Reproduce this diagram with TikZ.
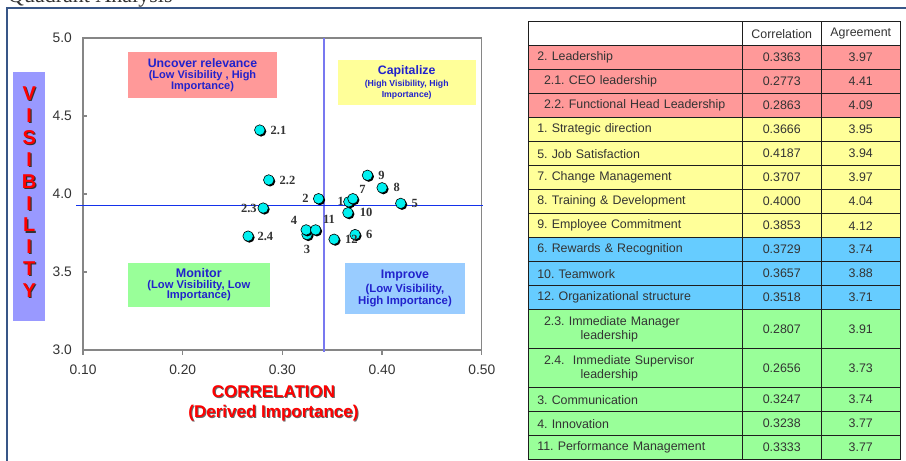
\documentclass[tikz,border=0pt]{standalone}
\usepackage{fontspec}
\setmainfont{Liberation Sans}
\newfontfamily\ptserif{Liberation Serif}
\usepackage{tikz}
\usetikzlibrary{shapes,arrows}
\usetikzlibrary{calc}
\usetikzlibrary{positioning}
\usetikzlibrary{shadows}
\definecolor{framenavy}{RGB}{56,86,135}
\definecolor{leadpink}{RGB}{255,153,153}
\definecolor{capyellow}{RGB}{255,255,153}
\definecolor{monitorgreen}{RGB}{153,255,153}
\definecolor{improveblue}{RGB}{153,204,255}
\definecolor{rowblue}{RGB}{102,204,255}
\definecolor{visviolet}{RGB}{153,153,255}
\definecolor{quadtext}{RGB}{34,34,204}
\definecolor{axisgray}{RGB}{134,134,134}
\definecolor{splitviolet}{RGB}{120,120,240}
\definecolor{splitblue}{RGB}{20,50,235}
\definecolor{dotcyan}{RGB}{0,240,240}
\definecolor{tabline}{RGB}{30,30,30}
\definecolor{tabtext}{RGB}{51,51,51}
\newcommand{\tabfont}{\frenchspacing\fontsize{12.4}{13.7}\selectfont}
\tikzstyle{quadbox} = [rectangle, align=center, text=quadtext, inner sep=0pt]
\tikzstyle{datapoint} = [circle, draw=black, fill=dotcyan, minimum size=10.5pt, inner sep=0pt,
    outer sep=0pt, line width=0.6pt, drop shadow={shadow xshift=1.3pt, shadow yshift=-1.3pt, fill=black, opacity=1}]
\tikzstyle{dotlabel} = [font=\ptserif\bfseries\fontsize{12.5}{13}\selectfont, text=black!80, inner sep=1pt]
\tikzstyle{ticklabel} = [font=\fontsize{13.8}{15}\selectfont, text=tabtext, inner sep=2pt]
\tikzstyle{axisline} = [draw=axisgray, line width=1.2pt]
\tikzstyle{vistext} = [align=center, inner sep=0pt, font=\bfseries\fontsize{20}{21.86}\selectfont]
\tikzstyle{xtitle} = [align=center, inner sep=0pt, font=\bfseries\fontsize{17}{20}\selectfont]
\tikzstyle{namecell} = [rectangle, draw=tabline, line width=1.2pt, outer sep=0pt, text width=196pt,
    inner xsep=9pt, inner ysep=0pt, minimum height=24pt, align=left, text=tabtext, font=\tabfont]
\tikzstyle{numcell} = [rectangle, draw=tabline, line width=1.2pt, outer sep=0pt, minimum width=79pt,
    minimum height=24pt, inner sep=0pt, align=center, text=tabtext, font=\tabfont]

\begin{document}
\begin{tikzpicture}[x=1pt, y=-1pt]
    \fill [white] (0,0) rectangle (906,461);
    \useasboundingbox (0,0) rectangle (906,461);
    \draw [framenavy, line width=2pt] (7,461) -- (7,8) -- (906,8);
    \begin{scope}
        \clip (0,0) rectangle (906,461);
        \node [font=\ptserif\fontsize{22}{24}\selectfont, text=black!80, inner sep=0pt] (title) at (8,2.5) [anchor=base west] {Quadrant Analysis};
    \end{scope}

    % vertical axis title
    \node [rectangle, fill=visviolet, minimum width=31.7pt, minimum height=248.8pt, inner sep=0pt] (visbox) at (29.2,196.1) {};
    \node [vistext, text=black!80] (visshadow) at (30.4,193.4) {V\\I\\S\\I\\B\\I\\L\\I\\T\\Y};
    \node [vistext, text=red] (vis) at (29.2,192.2) {V\\I\\S\\I\\B\\I\\L\\I\\T\\Y};

    \begin{scope}[shift={(-16.7,818)}, x=997pt, y=156pt, node distance=4.5pt]
        % plot area and ticks
        \draw [axisline] (0.1,3) rectangle (0.5,5);
        \draw [axisline] (0.1,4.5) -- ++(4.3pt,0);
        \draw [axisline] (0.1,4.0) -- ++(4.3pt,0);
        \draw [axisline] (0.1,3.5) -- ++(4.3pt,0);
        \draw [axisline] (0.1,3) -- ++(0,-4.5pt);
        \draw [axisline] (0.2,3) -- ++(0,-4.5pt);
        \draw [axisline] (0.3,3) -- ++(0,-4.5pt);
        \draw [axisline] (0.4,3) -- ++(0,-4.5pt);
        \draw [axisline] (0.5,3) -- ++(0,-4.5pt);
        \node [ticklabel, left=9pt] (y50) at (0.1,5) {5.0};
        \node [ticklabel, left=9pt] (y45) at (0.1,4.5) {4.5};
        \node [ticklabel, left=9pt] (y40) at (0.1,4) {4.0};
        \node [ticklabel, left=9pt] (y35) at (0.1,3.5) {3.5};
        \node [ticklabel, left=9pt] (y30) at (0.1,3) {3.0};
        \node [ticklabel, below=13pt] (x010) at (0.1,3) {0.10};
        \node [ticklabel, below=13pt] (x020) at (0.2,3) {0.20};
        \node [ticklabel, below=13pt] (x030) at (0.3,3) {0.30};
        \node [ticklabel, below=13pt] (x040) at (0.4,3) {0.40};
        \node [ticklabel, below=13pt] (x050) at (0.5,3) {0.50};

        % quadrant split
        \draw [draw=splitviolet, line width=2pt] (0.3414,5) -- (0.3414,2.987);
        \draw [draw=splitblue, line width=1.3pt] (0.093,3.925) -- (0.5011,3.925);

        % data points
        \node [datapoint] (p2) at (0.3363,3.97) {};
        \node [datapoint] (p21) at (0.2773,4.41) {};
        \node [datapoint] (p22) at (0.2863,4.09) {};
        \node [datapoint] (p9) at (0.3853,4.12) {};
        \node [datapoint] (p8) at (0.4000,4.04) {};
        \node [datapoint] (p5) at (0.4187,3.94) {};
        \node [datapoint] (p1) at (0.3666,3.95) {};
        \node [datapoint] (p7) at (0.3707,3.97) {};
        \node [datapoint] (p10) at (0.3657,3.88) {};
        \node [datapoint] (p23) at (0.2807,3.91) {};
        \node [datapoint] (p24) at (0.2656,3.73) {};
        \node [datapoint] (p3) at (0.3247,3.74) {};
        \node [datapoint] (p4) at (0.3238,3.77) {};
        \node [datapoint] (p11) at (0.3333,3.77) {};
        \node [datapoint] (p12) at (0.3518,3.71) {};
        \node [datapoint] (p6) at (0.3729,3.74) {};

        % point labels
        \node [dotlabel, left=3.5pt of p2] (l2) {2};
        \node [dotlabel, right=of p21] (l21) {2.1};
        \node [dotlabel, right=of p22] (l22) {2.2};
        \node [dotlabel, right=of p9] (l9) {9};
        \node [dotlabel, right=5pt of p8] (l8) {8};
        \node [dotlabel, right=of p5] (l5) {5};
        \node [dotlabel, left=-1.5pt of p1] (l1) {1};
        \node [dotlabel, above right=0pt and 1.5pt of p7] (l7) {7};
        \node [dotlabel, right=5.5pt of p10] (l10) {10};
        \node [dotlabel, left=0pt of p23] (l23) {2.3};
        \node [dotlabel, right=3pt of p24] (l24) {2.4};
        \node [dotlabel, below=4pt of p3] (l3) {3};
        \node [dotlabel, above left=0pt and 4pt of p4] (l4) {4};
        \node [dotlabel, above right=1pt and 2.5pt of p11] (l11) {11};
        \node [dotlabel, right=of p12] (l12) {12};
        \node [dotlabel, right=of p6] (l6) {6};
    \end{scope}

    % quadrant boxes
    \node [quadbox, minimum width=149.6pt, minimum height=45.4pt, font=\bfseries\fontsize{11}{11.2}\selectfont] (uncover) at (202.5,75) [fill=leadpink]
        {{\fontsize{12.3}{13}\selectfont Uncover relevance}\\(Low Visibility , High\\Importance)};
    \node [quadbox, minimum width=138pt, minimum height=45pt, font=\bfseries\fontsize{8.7}{10.7}\selectfont] (capitalize) at (406.7,82.5) [fill=capyellow]
        {{\fontsize{12.3}{13}\selectfont Capitalize}\\[1.5pt](High Visibility, High\\Importance)};
    \node [quadbox, minimum width=142.3pt, minimum height=43.4pt, font=\bfseries\fontsize{11.2}{10.5}\selectfont] (monitor) at (198.8,285) [fill=monitorgreen]
        {{\fontsize{12.5}{13}\selectfont Monitor}\\(Low Visibility, Low\\Importance)};
    \node [quadbox, minimum width=120pt, minimum height=51.3pt, font=\bfseries\fontsize{11.4}{12.3}\selectfont] (improve) at (405,288.3) [fill=improveblue]
        {{\fontsize{12.4}{13}\selectfont Improve}\\[2pt](Low Visibility,\\High Importance)};

    % horizontal axis title
    \node [xtitle, text=black!60] (corrshadow) at (274.5,404.5) {CORRELATION\\(Derived Importance)};
    \node [xtitle, text=red] (corr) at (273.5,403.5) {CORRELATION\\(Derived Importance)};

    % table
    \node [namecell] (hdr) at (528.3,21.7) [anchor=north west, fill=white] {};
    \node [numcell, right=0pt of hdr] (hdrcorr) [fill=white] {Correlation};
    \node [numcell, right=0pt of hdrcorr] (hdragr) [fill=white] {Agreement};
    \node [namecell, below=0pt of hdr] (r2) [fill=leadpink] {2. Leadership};
    \node [numcell, right=0pt of r2] (r2corr) [fill=leadpink] {0.3363};
    \node [numcell, right=0pt of r2corr] (r2agr) [fill=leadpink] {3.97};
    \node [namecell, below=0pt of r2] (r21) [fill=leadpink] {\hspace*{6.7pt}2.1. CEO leadership};
    \node [numcell, right=0pt of r21] (r21corr) [fill=leadpink] {0.2773};
    \node [numcell, right=0pt of r21corr] (r21agr) [fill=leadpink] {4.41};
    \node [namecell, below=0pt of r21] (r22) [fill=leadpink] {\hspace*{6.7pt}2.2. Functional Head Leadership};
    \node [numcell, right=0pt of r22] (r22corr) [fill=leadpink] {0.2863};
    \node [numcell, right=0pt of r22corr] (r22agr) [fill=leadpink] {4.09};
    \node [namecell, below=0pt of r22] (r1) [fill=capyellow] {1. Strategic direction};
    \node [numcell, right=0pt of r1] (r1corr) [fill=capyellow] {0.3666};
    \node [numcell, right=0pt of r1corr] (r1agr) [fill=capyellow] {3.95};
    \node [namecell, below=0pt of r1] (r5) [fill=capyellow] {5. Job Satisfaction};
    \node [numcell, right=0pt of r5] (r5corr) [fill=capyellow] {0.4187};
    \node [numcell, right=0pt of r5corr] (r5agr) [fill=capyellow] {3.94};
    \node [namecell, below=0pt of r5] (r7) [fill=capyellow] {7. Change Management};
    \node [numcell, right=0pt of r7] (r7corr) [fill=capyellow] {0.3707};
    \node [numcell, right=0pt of r7corr] (r7agr) [fill=capyellow] {3.97};
    \node [namecell, below=0pt of r7] (r8) [fill=capyellow] {8. Training \& Development};
    \node [numcell, right=0pt of r8] (r8corr) [fill=capyellow] {0.4000};
    \node [numcell, right=0pt of r8corr] (r8agr) [fill=capyellow] {4.04};
    \node [namecell, below=0pt of r8] (r9) [fill=capyellow] {9. Employee Commitment};
    \node [numcell, right=0pt of r9] (r9corr) [fill=capyellow] {0.3853};
    \node [numcell, right=0pt of r9corr] (r9agr) [fill=capyellow] {4.12};
    \node [namecell, below=0pt of r9] (r6) [fill=rowblue] {6. Rewards \& Recognition};
    \node [numcell, right=0pt of r6] (r6corr) [fill=rowblue] {0.3729};
    \node [numcell, right=0pt of r6corr] (r6agr) [fill=rowblue] {3.74};
    \node [namecell, below=0pt of r6] (r10) [fill=rowblue] {10. Teamwork};
    \node [numcell, right=0pt of r10] (r10corr) [fill=rowblue] {0.3657};
    \node [numcell, right=0pt of r10corr] (r10agr) [fill=rowblue] {3.88};
    \node [namecell, below=0pt of r10] (r12) [fill=rowblue] {12. Organizational structure};
    \node [numcell, right=0pt of r12] (r12corr) [fill=rowblue] {0.3518};
    \node [numcell, right=0pt of r12corr] (r12agr) [fill=rowblue] {3.71};
    \node [namecell, below=0pt of r12, minimum height=39pt] (r23) [fill=monitorgreen] {\hspace*{6.7pt}2.3. Immediate Manager\\\hspace*{43.4pt}leadership};
    \node [numcell, right=0pt of r23, minimum height=39pt] (r23corr) [fill=monitorgreen] {0.2807};
    \node [numcell, right=0pt of r23corr, minimum height=39pt] (r23agr) [fill=monitorgreen] {3.91};
    \node [namecell, below=0pt of r23, minimum height=39pt] (r24) [fill=monitorgreen] {\hspace*{6.7pt}2.4.\ \ Immediate Supervisor\\\hspace*{43.4pt}leadership};
    \node [numcell, right=0pt of r24, minimum height=39pt] (r24corr) [fill=monitorgreen] {0.2656};
    \node [numcell, right=0pt of r24corr, minimum height=39pt] (r24agr) [fill=monitorgreen] {3.73};
    \node [namecell, below=0pt of r24] (r3) [fill=monitorgreen] {3. Communication};
    \node [numcell, right=0pt of r3] (r3corr) [fill=monitorgreen] {0.3247};
    \node [numcell, right=0pt of r3corr] (r3agr) [fill=monitorgreen] {3.74};
    \node [namecell, below=0pt of r3] (r4) [fill=monitorgreen] {4. Innovation};
    \node [numcell, right=0pt of r4] (r4corr) [fill=monitorgreen] {0.3238};
    \node [numcell, right=0pt of r4corr] (r4agr) [fill=monitorgreen] {3.77};
    \node [namecell, below=0pt of r4] (r11) [fill=monitorgreen] {11. Performance Management};
    \node [numcell, right=0pt of r11] (r11corr) [fill=monitorgreen] {0.3333};
    \node [numcell, right=0pt of r11corr] (r11agr) [fill=monitorgreen] {3.77};
\end{tikzpicture}
\end{document}
